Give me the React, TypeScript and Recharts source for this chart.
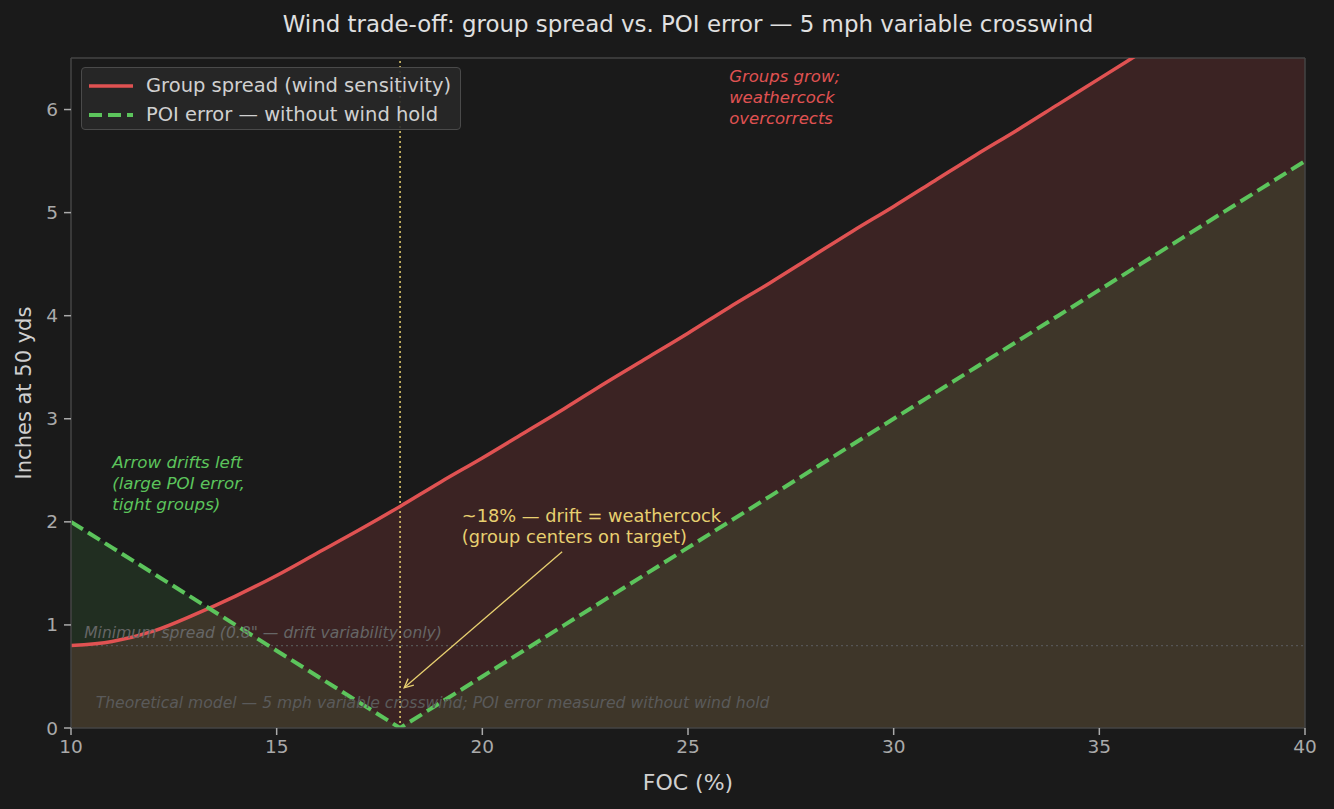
import React from "react";
import {
  ComposedChart,
  Area,
  Line,
  XAxis,
  YAxis,
  ReferenceLine,
  ReferenceDot,
} from "recharts";

// FOC (%) sample points
const focValues = [
  10, 11, 12, 13, 14, 15, 16, 17, 18, 19, 20, 21, 22, 23, 24, 25, 26, 27, 28,
  29, 30, 31, 32, 33, 34, 35, 36, 37, 38, 39, 40,
];
// group spread (inches at 50 yds)
const spreadValues = [
  0.8, 0.84, 0.94, 1.1, 1.28, 1.48, 1.7, 1.92, 2.15, 2.39, 2.62, 2.86, 3.1,
  3.35, 3.59, 3.83, 4.08, 4.32, 4.57, 4.82, 5.06, 5.31, 5.56, 5.8, 6.05, 6.3,
  6.55, 6.8, 7.05, 7.29, 7.54,
];
// POI error without wind hold
const poiValues = [
  2.0, 1.75, 1.5, 1.25, 1.0, 0.75, 0.5, 0.25, 0, 0.25, 0.5, 0.75, 1.0, 1.25,
  1.5, 1.75, 2.0, 2.25, 2.5, 2.75, 3.0, 3.25, 3.5, 3.75, 4.0, 4.25, 4.5, 4.75,
  5.0, 5.25, 5.5,
];
const xTicks = [10, 15, 20, 25, 30, 35, 40];
const yTicks = [0, 1, 2, 3, 4, 5, 6];

const data = focValues.map((foc, i) => ({
  foc,
  spread: spreadValues[i],
  poi: poiValues[i],
}));

const RED = "#e05252";
const GREEN = "#5cc45c";
const YELLOW = "#e8d070";
const FONT = "'DejaVu Sans', sans-serif";

const note =
  (
    lines: string[],
    color: string,
    size: number,
    italic: boolean,
    lh: number
  ) =>
  (props: any) => {
    const vb = props.viewBox || {};
    const x = vb.x ?? 0;
    const y = vb.y ?? 0;
    return (
      <text
        x={x}
        y={y}
        fill={color}
        fontSize={size}
        fontStyle={italic ? "italic" : "normal"}
        fontFamily={FONT}
      >
        {lines.map((l, i) => (
          <tspan key={i} x={x} dy={i === 0 ? 0 : lh}>
            {l}
          </tspan>
        ))}
      </text>
    );
  };

const Arrow = (props: any) => {
  const { x1, y1, x2, y2 } = props;
  const a = Math.atan2(y2 - y1, x2 - x1);
  const h = 10;
  const s = 0.45;
  return (
    <g stroke={YELLOW} strokeWidth={1.3} fill="none">
      <line x1={x1} y1={y1} x2={x2} y2={y2} />
      <polyline
        points={`${x2 - h * Math.cos(a - s)},${y2 - h * Math.sin(a - s)} ${x2},${y2} ${
          x2 - h * Math.cos(a + s)
        },${y2 - h * Math.sin(a + s)}`}
      />
    </g>
  );
};

const LegendBox = () => (
  <div
    style={{
      position: "absolute",
      left: 81,
      top: 67,
      width: 380,
      height: 63,
      background: "rgba(40,40,40,0.9)",
      border: "1px solid #4a4a4a",
      borderRadius: 4,
      fontFamily: FONT,
      fontSize: 19.5,
      color: "#d0d0d0",
      boxSizing: "border-box",
      padding: "3px 0 0 6px",
      whiteSpace: "nowrap",
    }}
  >
    <div style={{ display: "flex", alignItems: "center", height: 29 }}>
      <svg width={46} height={6} style={{ marginRight: 12 }}>
        <line x1={1} y1={3} x2={45} y2={3} stroke={RED} strokeWidth={3.5} />
      </svg>
      Group spread (wind sensitivity)
    </div>
    <div style={{ display: "flex", alignItems: "center", height: 29 }}>
      <svg width={46} height={6} style={{ marginRight: 12 }}>
        <line
          x1={1}
          y1={3}
          x2={45}
          y2={3}
          stroke={GREEN}
          strokeWidth={4}
          strokeDasharray="13 6"
        />
      </svg>
      POI error — without wind hold
    </div>
  </div>
);

export default function App() {
  return (
    <div
      style={{
        position: "fixed",
        left: 0,
        top: 0,
        width: 1334,
        height: 809,
        background: "#1a1a1a",
        fontFamily: FONT,
      }}
    >
      <div
        style={{
          position: "absolute",
          top: 11,
          left: 71,
          width: 1234,
          textAlign: "center",
          color: "#e0e0e0",
          fontSize: 22.9,
          whiteSpace: "nowrap",
        }}
      >
        Wind trade-off: group spread vs. POI error — 5 mph variable crosswind
      </div>
      <ComposedChart
        width={1334}
        height={809}
        data={data}
        margin={{ top: 58, right: 29, bottom: 19, left: 0 }}
      >
        <XAxis
          dataKey="foc"
          type="number"
          domain={[10, 40]}
          ticks={xTicks}
          allowDataOverflow
          height={62}
          stroke="#444"
          strokeWidth={1.5}
          tick={{ fill: "#aaa", fontSize: 18.5, fontFamily: FONT }}
          tickLine={{ stroke: "#aaa" }}
          tickSize={7}
          tickMargin={5}
          label={{
            value: "FOC (%)",
            position: "insideBottom",
            offset: 0,
            fill: "#d0d0d0",
            fontSize: 22,
            fontFamily: FONT,
          }}
        />
        <YAxis
          type="number"
          domain={[0, 6.5]}
          ticks={yTicks}
          allowDataOverflow
          width={71}
          stroke="#444"
          strokeWidth={1.5}
          tick={{ fill: "#aaa", fontSize: 18.5, fontFamily: FONT }}
          tickLine={{ stroke: "#aaa" }}
          tickSize={7}
          tickMargin={6}
          label={{
            value: "Inches at 50 yds",
            content: (p: any) => {
              const vb = p.viewBox;
              const cy = vb.y + vb.height / 2;
              return (
                <text
                  x={24}
                  y={cy}
                  transform={`rotate(-90, 24, ${cy})`}
                  textAnchor="middle"
                  dominantBaseline="central"
                  fill="#d0d0d0"
                  fontSize={21}
                  fontFamily={FONT}
                >
                  Inches at 50 yds
                </text>
              );
            },
          }}
        />
        {/* top and right frame */}
        <ReferenceLine y={6.5} stroke="#444" strokeWidth={1.5} />
        <ReferenceLine x={40} stroke="#444" strokeWidth={1.5} />
        <Area
          dataKey="spread"
          type="monotone"
          stroke="none"
          fill={RED}
          fillOpacity={0.17}
          isAnimationActive={false}
        />
        <Area
          dataKey="poi"
          type="linear"
          stroke="none"
          fill={GREEN}
          fillOpacity={0.12}
          isAnimationActive={false}
        />
        <ReferenceLine
          y={0.8}
          stroke="#555"
          strokeWidth={1.2}
          strokeDasharray="2 3"
        />
        <ReferenceLine
          x={18}
          stroke={YELLOW}
          strokeWidth={1.5}
          strokeDasharray="2 3"
        />
        <Line
          dataKey="spread"
          type="monotone"
          stroke={RED}
          strokeWidth={3.5}
          dot={false}
          isAnimationActive={false}
        />
        <Line
          dataKey="poi"
          type="linear"
          stroke={GREEN}
          strokeWidth={4}
          strokeDasharray="14 6"
          dot={false}
          isAnimationActive={false}
        />
        <ReferenceLine
          segment={[
            { x: 21.94, y: 1.71 },
            { x: 18.1, y: 0.39 },
          ]}
          shape={Arrow}
        />
        <ReferenceDot
          x={11}
          y={2.52}
          r={0}
          fill="none"
          stroke="none"
          label={{
            content: note(
              ["Arrow drifts left", "(large POI error,", "tight groups)"],
              GREEN,
              16.7,
              true,
              21
            ),
          }}
        />
        <ReferenceDot
          x={26}
          y={6.27}
          r={0}
          fill="none"
          stroke="none"
          label={{
            content: note(
              ["Groups grow;", "weathercock", "overcorrects"],
              RED,
              16.5,
              true,
              21
            ),
          }}
        />
        <ReferenceDot
          x={19.5}
          y={2.0}
          r={0}
          fill="none"
          stroke="none"
          label={{
            content: note(
              ["~18% — drift = weathercock", "(group centers on target)"],
              YELLOW,
              17.8,
              false,
              21
            ),
          }}
        />
        <ReferenceDot
          x={10.32}
          y={0.873}
          r={0}
          fill="none"
          stroke="none"
          label={{
            content: note(
              ['Minimum spread (0.8" — drift variability only)'],
              "#666",
              15.6,
              true,
              18
            ),
          }}
        />
        <ReferenceDot
          x={10.6}
          y={0.194}
          r={0}
          fill="none"
          stroke="none"
          label={{
            content: note(
              [
                "Theoretical model — 5 mph variable crosswind; POI error measured without wind hold",
              ],
              "#5a5a5a",
              15.6,
              true,
              18
            ),
          }}
        />
      </ComposedChart>
      <LegendBox />
    </div>
  );
}
